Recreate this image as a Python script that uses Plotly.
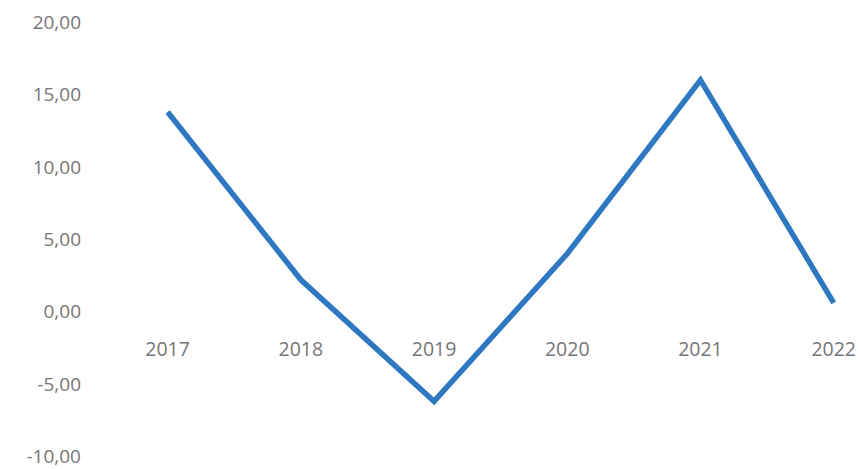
import plotly.graph_objects as go

years = [2017, 2018, 2019, 2020, 2021, 2022]
year_labels = ["2017", "2018", "2019", "2020", "2021", "2022"]
values = [13.8, 2.2, -6.2, 4.0, 16.0, 0.6]
y_ticks = [-10, -5, 0, 5, 10, 15, 20]
y_tick_labels = ["-10,00", "-5,00", "0,00", "5,00", "10,00", "15,00", "20,00"]

fig = go.Figure()
fig.add_trace(go.Scatter(
    x=years, y=values, mode="lines",
    line=dict(color="#2E78C2", width=5.5),
    hoverinfo="skip", showlegend=False,
))

fig.update_layout(
    width=859, height=469,
    margin=dict(l=101, r=0, t=22, b=12, autoexpand=False),
    paper_bgcolor="white", plot_bgcolor="white",
    font=dict(family="Open Sans, sans-serif", color="#767676", size=19),
    xaxis=dict(
        tickmode="array", tickvals=years, ticktext=year_labels,
        range=[2016.5, 2022.19],
        anchor="free", position=1/3, automargin=False,
        showgrid=False, zeroline=False, showline=False,
        ticks="", ticklabelstandoff=23, ticklabeloverflow="allow",
        tickfont=dict(size=19.5, color="#767676"),
    ),
    yaxis=dict(
        tickmode="array", tickvals=y_ticks, ticktext=y_tick_labels,
        range=[-10.05, 20.02], automargin=False,
        showgrid=False, zeroline=False, showline=False,
        ticks="", ticklabelstandoff=19, ticklabeloverflow="allow",
        tickfont=dict(size=19, color="#767676"),
    ),
)

fig.write_html(
    "out.html",
    config={"displayModeBar": False, "staticPlot": True},
    post_script="document.body.style.margin='0';document.body.style.overflow='hidden';",
)
